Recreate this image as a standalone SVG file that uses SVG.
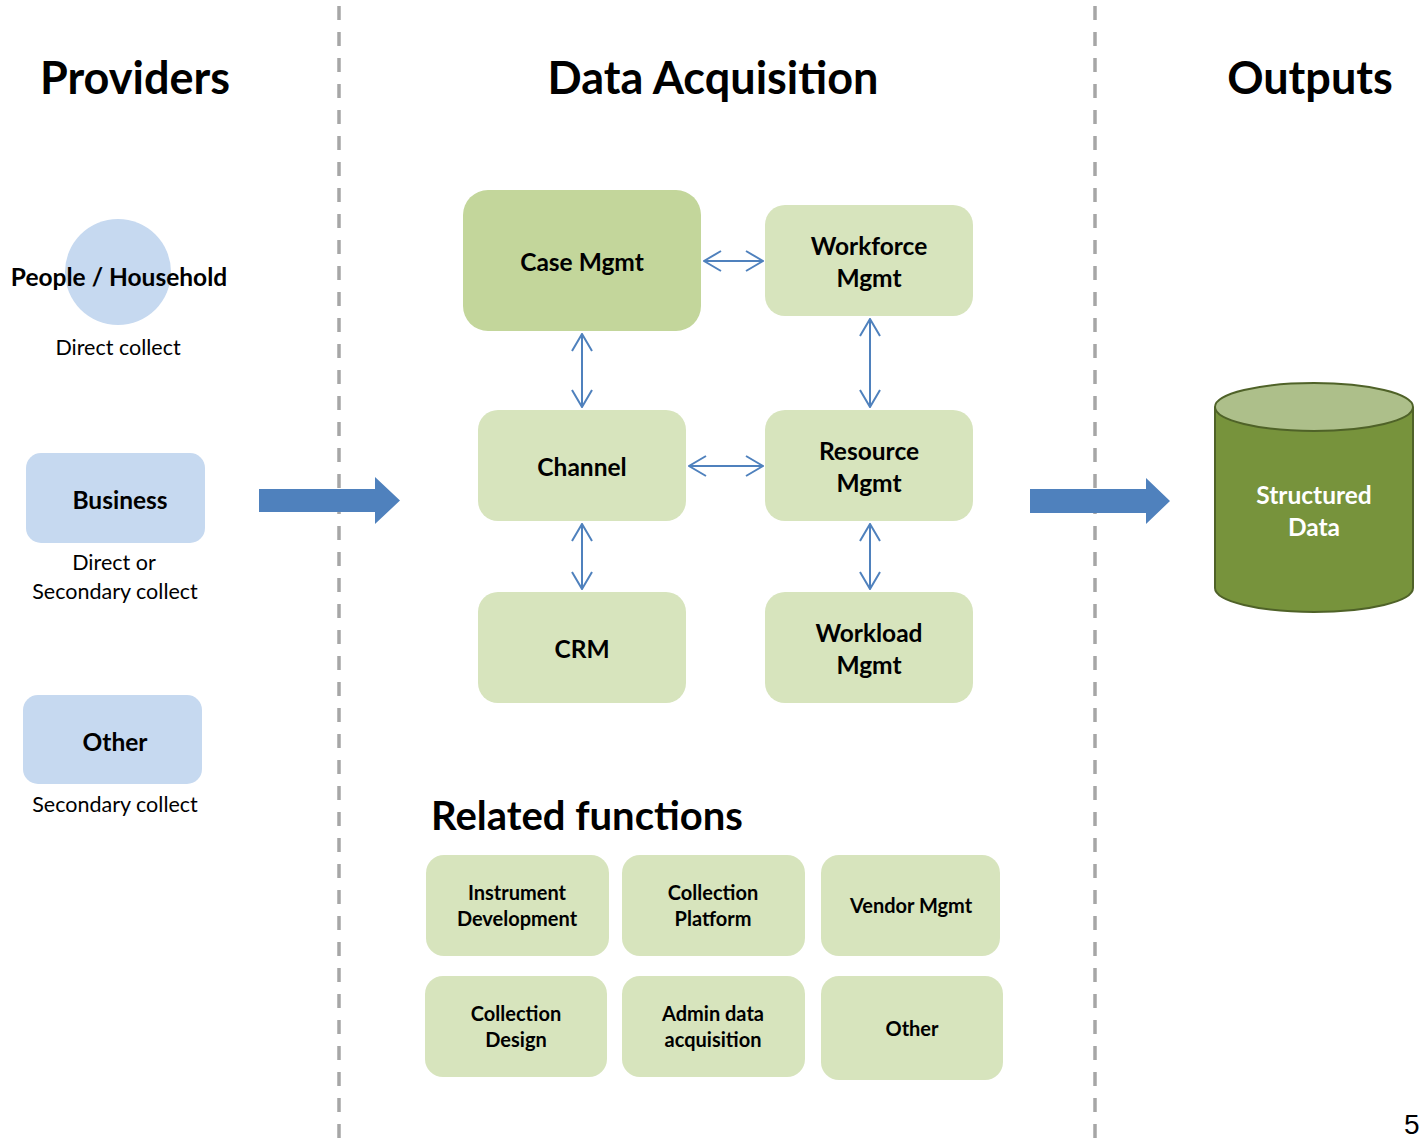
<svg xmlns="http://www.w3.org/2000/svg" width="1426" height="1139" viewBox="0 0 1426 1139">
<style>
text{font-family:Lato,"Open Sans","Liberation Sans",sans-serif;fill:#000}
.h{font-size:45px;font-weight:bold;text-anchor:middle}
.b{font-size:24.5px;font-weight:bold;text-anchor:middle}
.s{font-size:20px;font-weight:bold;text-anchor:middle}
.n{font-size:21.5px;text-anchor:middle}
.prov{fill:#c6d9f0}
.main{fill:#d7e4bd}
.sep{stroke:#a6a6a6;stroke-width:3.5;stroke-dasharray:14 12}
.con{stroke:#4f81bd;stroke-width:2;fill:none}
.big{fill:#4f81bd}
</style>
<defs>
<marker id="v" viewBox="0 0 20 22" refX="19" refY="11" markerWidth="20" markerHeight="22" markerUnits="userSpaceOnUse" orient="auto-start-reverse">
<path d="M2,1 L19,11 L2,21" fill="none" stroke="#4f81bd" stroke-width="2"/>
</marker>
</defs>
<rect width="1426" height="1139" fill="#fff"/>
<g id="separators">
<line class="sep" x1="339" y1="6" x2="339" y2="1139"/>
<line class="sep" x1="1095" y1="6" x2="1095" y2="1139"/>
</g>
<g id="headers">
<text class="h" x="135" y="94">Providers</text>
<text class="h" x="713" y="94">Data Acquisition</text>
<text class="h" x="1310" y="94">Outputs</text>
</g>
<g id="people">
<circle class="prov" cx="118" cy="272" r="53"/>
<text class="b" x="119" y="286">People / Household</text>
<text class="n" x="118" y="355">Direct collect</text>
</g>
<g id="business">
<rect class="prov" x="26" y="453" width="179" height="90" rx="15"/>
<text class="b" x="120" y="509">Business</text>
<text class="n" x="114" y="570">Direct or</text>
<text class="n" x="115" y="599">Secondary collect</text>
</g>
<g id="other-provider">
<rect class="prov" x="23" y="695" width="179" height="89" rx="15"/>
<text class="b" x="115" y="751">Other</text>
<text class="n" x="115" y="812">Secondary collect</text>
</g>
<g id="arrow-in">
<path class="big" d="M259,489 H375 V477 L400,500.5 L375,524 V512 H259 Z"/>
</g>
<g id="arrow-out">
<path class="big" d="M1030,489 H1146 V478 L1170,501 L1146,524 V513 H1030 Z"/>
</g>
<g id="structured-data">
<path d="M1215,407 V588 A99,24 0 0 0 1413,588 V407" fill="#77933c" stroke="#4f6228" stroke-width="2"/>
<ellipse cx="1314" cy="407" rx="99" ry="24" fill="#adbf8a" stroke="#4f6228" stroke-width="2"/>
<text class="b" x="1314" y="504" style="fill:#fff">Structured</text>
<text class="b" x="1314" y="536" style="fill:#fff">Data</text>
</g>
<g id="case-mgmt">
<rect x="463" y="190" width="238" height="141" rx="25" fill="#c3d69b"/>
<text class="b" x="582" y="271">Case Mgmt</text>
</g>
<g id="workforce-mgmt">
<rect class="main" x="765" y="205" width="208" height="111" rx="20"/>
<text class="b" x="869" y="255">Workforce</text>
<text class="b" x="869" y="287">Mgmt</text>
</g>
<g id="channel">
<rect class="main" x="478" y="410" width="208" height="111" rx="20"/>
<text class="b" x="582" y="476">Channel</text>
</g>
<g id="resource-mgmt">
<rect class="main" x="765" y="410" width="208" height="111" rx="20"/>
<text class="b" x="869" y="460">Resource</text>
<text class="b" x="869" y="492">Mgmt</text>
</g>
<g id="crm">
<rect class="main" x="478" y="592" width="208" height="111" rx="20"/>
<text class="b" x="582" y="658">CRM</text>
</g>
<g id="workload-mgmt">
<rect class="main" x="765" y="592" width="208" height="111" rx="20"/>
<text class="b" x="869" y="642">Workload</text>
<text class="b" x="869" y="674">Mgmt</text>
</g>
<g id="connectors">
<line class="con" x1="704" y1="261" x2="763" y2="261" marker-start="url(#v)" marker-end="url(#v)"/>
<line class="con" x1="582" y1="334" x2="582" y2="407" marker-start="url(#v)" marker-end="url(#v)"/>
<line class="con" x1="870" y1="319" x2="870" y2="407" marker-start="url(#v)" marker-end="url(#v)"/>
<line class="con" x1="689" y1="466" x2="763" y2="466" marker-start="url(#v)" marker-end="url(#v)"/>
<line class="con" x1="582" y1="524" x2="582" y2="589" marker-start="url(#v)" marker-end="url(#v)"/>
<line class="con" x1="870" y1="524" x2="870" y2="589" marker-start="url(#v)" marker-end="url(#v)"/>
</g>
<g id="related-title">
<text x="431" y="830" style="font-size:40px;font-weight:bold">Related functions</text>
</g>
<g id="instrument-development">
<rect class="main" x="426" y="855" width="183" height="101" rx="18"/>
<text class="s" x="517" y="900">Instrument</text>
<text class="s" x="517" y="926">Development</text>
</g>
<g id="collection-platform">
<rect class="main" x="622" y="855" width="183" height="101" rx="18"/>
<text class="s" x="713" y="900">Collection</text>
<text class="s" x="713" y="926">Platform</text>
</g>
<g id="vendor-mgmt">
<rect class="main" x="821" y="855" width="179" height="101" rx="18"/>
<text class="s" x="911" y="913">Vendor Mgmt</text>
</g>
<g id="collection-design">
<rect class="main" x="425" y="976" width="182" height="101" rx="18"/>
<text class="s" x="516" y="1021">Collection</text>
<text class="s" x="516" y="1047">Design</text>
</g>
<g id="admin-data-acquisition">
<rect class="main" x="622" y="976" width="183" height="101" rx="18"/>
<text class="s" x="713" y="1021">Admin data</text>
<text class="s" x="713" y="1047">acquisition</text>
</g>
<g id="other-function">
<rect class="main" x="821" y="976" width="182" height="104" rx="18"/>
<text class="s" x="912" y="1036">Other</text>
</g>
<g id="page-number">
<text x="1404" y="1134" style="font-family:'Liberation Sans',Arial,sans-serif;font-size:28px">5</text>
</g>
</svg>
